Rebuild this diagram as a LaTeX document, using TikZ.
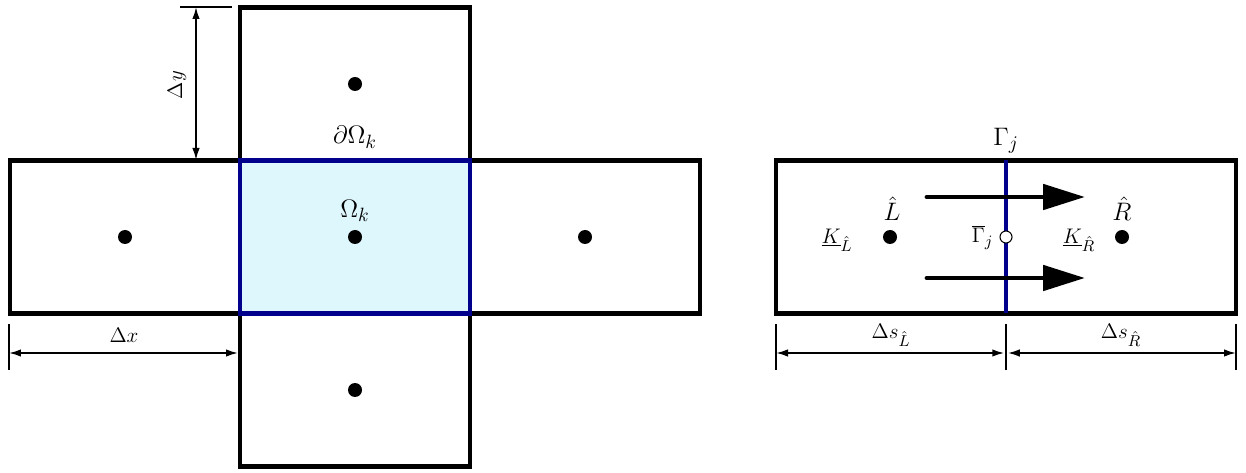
\documentclass[tikz,border=0pt]{standalone}
\usepackage{tikz}
\usetikzlibrary{arrows.meta, positioning}
\definecolor{facecol}{RGB}{0,0,140}
\definecolor{cellfill}{RGB}{222,247,252}
\tikzstyle{cell} = [rectangle, minimum width=4.6cm, minimum height=3.06cm, inner sep=0pt, outer sep=0pt, draw=black, line width=2.6pt]
\tikzstyle{dot} = [circle, fill=black, inner sep=0pt, minimum size=0.28cm]
\tikzstyle{opendot} = [circle, draw=black, fill=white, inner sep=0pt, minimum size=0.24cm, line width=0.6pt]
\tikzstyle{face} = [draw=facecol, line width=2.4pt]
\tikzstyle{dim} = [line width=1pt, {Latex[length=2.4mm,width=1.5mm]}-{Latex[length=2.4mm,width=1.5mm]}]
\tikzstyle{tick} = [line width=1.4pt]
\tikzstyle{flow} = [line width=2.8pt, line cap=round, -{Triangle[length=0.84cm,width=0.5cm]}]
\tikzstyle{biglabel} = [font=\fontsize{15}{18}\selectfont]
\tikzstyle{dimlabel} = [font=\fontsize{12.5}{15}\selectfont]

\begin{document}
\begin{tikzpicture}[node distance=0pt]
    \useasboundingbox (0,0) rectangle (24.92,9.44);

    % stencil on the left
    \node (center) [cell, fill=cellfill] at (7.10,4.70) {};
    \node (west) [cell, left=of center] {};
    \node (east) [cell, right=of center] {};
    \node (north) [cell, above=of center] {};
    \node (south) [cell, below=of center] {};
    \draw [face] (center.north west) rectangle (center.south east);

    \node (dotC) [dot] at (center.center) {};
    \node (dotW) [dot] at (west.center) {};
    \node (dotE) [dot] at (east.center) {};
    \node (dotN) [dot] at (north.center) {};
    \node (dotS) [dot] at (south.center) {};

    \node (omega) [biglabel] at (7.10,5.22) {$\Omega_k$};
    \node (bdry) [biglabel] at (7.10,6.70) {$\partial\Omega_k$};

    % cell sizes
    \coordinate (dyTop) at (3.92,9.30);
    \coordinate (dyBot) at (3.92,6.24);
    \coordinate (tickA) at (3.60,9.30);
    \coordinate (tickB) at (4.64,9.30);
    \draw [tick] (tickA) -- (tickB);
    \draw [dim] (dyTop) -- (dyBot);
    \node (dy) [dimlabel, rotate=90] at (3.54,7.74) {$\Delta y$};

    \coordinate (dxL) at (0.18,2.38);
    \coordinate (dxR) at (4.76,2.38);
    \coordinate (tickC) at (0.18,2.96);
    \coordinate (tickD) at (0.18,2.04);
    \draw [tick] (tickC) -- (tickD);
    \draw [dim] (dxL) -- (dxR);
    \node (dx) [dimlabel] at (2.48,2.74) {$\Delta x$};

    % two cells on the right
    \node (domain) [cell, minimum width=9.2cm] at (20.12,4.70) {};
    \draw [face, line width=1.8pt] (domain.north) -- (domain.south);
    \node (gamma) [biglabel] at (20.12,6.62) {$\Gamma_j$};

    \coordinate (upA) at (18.54,5.50);
    \coordinate (upB) at (21.70,5.50);
    \coordinate (loA) at (18.54,3.88);
    \coordinate (loB) at (21.70,3.88);
    \draw [flow] (upA) -- (upB);
    \draw [flow] (loA) -- (loB);

    \node (dotL) [dot] at (17.80,4.70) {};
    \node (dotR) [dot] at (22.44,4.70) {};
    \node (mid) [opendot] at (domain.center) {};
    \node (Lhat) [biglabel] at (17.84,5.26) {$\hat{L}$};
    \node (Rhat) [biglabel] at (22.44,5.26) {$\hat{R}$};
    \node (KL) [dimlabel] at (16.74,4.64) {$\underline{K}_{\hat{L}}$};
    \node (KR) [dimlabel] at (21.58,4.64) {$\underline{K}_{\hat{R}}$};
    \node (gbar) [dimlabel, left=0pt of mid] {$\overline{\Gamma}_j$};

    \coordinate (sA) at (15.52,2.38);
    \coordinate (sB) at (20.12,2.38);
    \coordinate (sC) at (24.72,2.38);
    \foreach \x in {15.52,20.12,24.72}
        \draw [tick] (\x,2.96) -- (\x,2.04);
    \draw [dim, shorten >=1pt] (sA) -- (sB);
    \draw [dim, shorten <=1pt] (sB) -- (sC);
    \node (dsL) [dimlabel] at (17.82,2.74) {$\Delta s_{\hat{L}}$};
    \node (dsR) [dimlabel] at (22.42,2.74) {$\Delta s_{\hat{R}}$};
\end{tikzpicture}
\end{document}
